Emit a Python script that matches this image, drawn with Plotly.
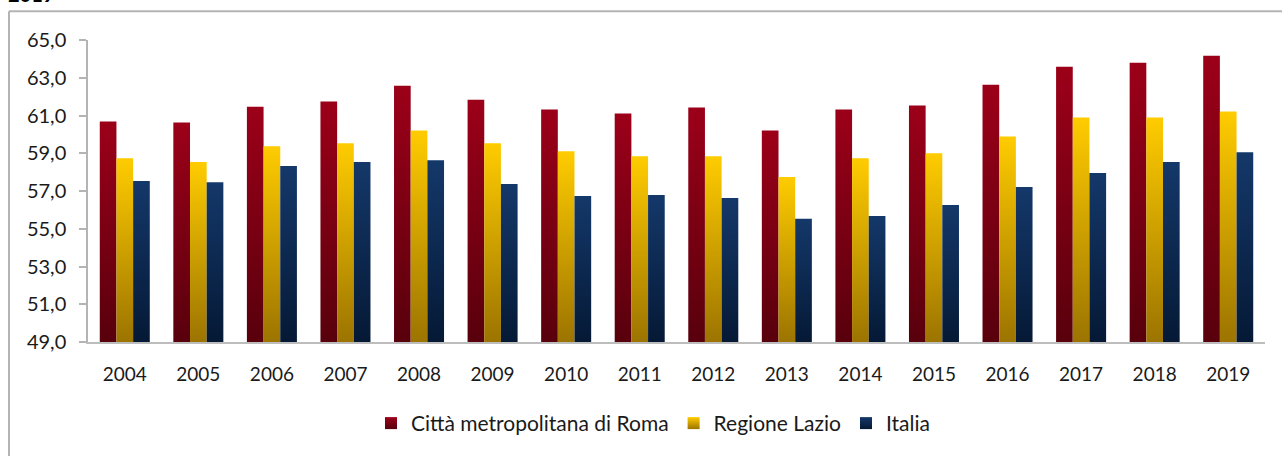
import json
import plotly.graph_objects as go

years = [str(y) for y in range(2004, 2020)]
roma = [60.68, 60.63, 61.47, 61.74, 62.58, 61.84, 61.32, 61.10, 61.42, 60.21,
        61.32, 61.53, 62.63, 63.58, 63.79, 64.16]
lazio = [58.74, 58.53, 59.37, 59.53, 60.21, 59.53, 59.10, 58.84, 58.84, 57.74,
         58.74, 59.00, 59.89, 60.89, 60.89, 61.21]
italia = [57.53, 57.47, 58.32, 58.53, 58.63, 57.37, 56.74, 56.79, 56.63, 55.53,
          55.68, 56.26, 57.21, 57.95, 58.53, 59.05]
series_names = ["Città metropolitana di Roma", "Regione Lazio", "Italia"]
series_values = [roma, lazio, italia]
mid_colors = ["#7d0014", "#d9a600", "#0f2a52"]
grad_top = ["#9c0019", "#ffcc00", "#14386a"]
grad_bottom = ["#58000c", "#9c7400", "#051935"]
y_ticks = [49, 51, 53, 55, 57, 59, 61, 63, 65]

FONT = "Lato, 'Open Sans', sans-serif"

fig = go.Figure()
for name, vals, col in zip(series_names, series_values, mid_colors):
    fig.add_trace(go.Bar(
        x=years, y=vals, name=name,
        marker=dict(color=col, line=dict(width=0)),
        hoverinfo="x+y+name",
    ))

W, H = 1282, 456
L, R, T, B = 88, 1265, 40, 344
pw, ph = R - L, B - T

def px_x(px):
    return (px - L) / pw

def px_y(py):
    return (B - py) / ph

border = "#b4b4b4"
fig.update_layout(
    width=W, height=H,
    margin=dict(l=L, r=W - R, t=T, b=H - B, pad=0),
    paper_bgcolor="white", plot_bgcolor="white",
    separators=",.",
    barmode="group", bargap=0.32, bargroupgap=0,
    font=dict(family=FONT, size=19, color="#1a1a1a"),
    showlegend=True,
    legend=dict(orientation="h", x=px_x(653), xanchor="center",
                y=px_y(426), yanchor="middle",
                font=dict(family=FONT, size=21, color="#1a1a1a"),
                traceorder="normal", itemwidth=30),
    xaxis=dict(showgrid=False, showline=True, linecolor="#bdbdbd", linewidth=2,
               ticks="", ticklabelstandoff=14, zeroline=False,
               tickfont=dict(family=FONT, size=19, color="#1a1a1a")),
    yaxis=dict(range=[49, 65], tickvals=y_ticks, tickformat=".1f",
               showgrid=False, showline=True, linecolor="#b4b4b4", linewidth=1.5,
               ticks="outside", ticklen=7, tickcolor="#b4b4b4", tickwidth=1.5,
               ticklabelstandoff=9, zeroline=False,
               tickfont=dict(family=FONT, size=20, color="#1a1a1a")),
    shapes=[
        dict(type="line", xref="paper", yref="paper",
             x0=px_x(9), x1=px_x(1300), y0=px_y(11), y1=px_y(11),
             line=dict(color=border, width=2)),
        dict(type="line", xref="paper", yref="paper",
             x0=px_x(9), x1=px_x(9), y0=px_y(11), y1=px_y(480),
             line=dict(color=border, width=2)),
    ],
    annotations=[
        dict(text="<b>2019</b>", xref="paper", yref="paper",
             x=px_x(6), xanchor="left", y=px_y(8), yanchor="bottom",
             showarrow=False, font=dict(family=FONT, size=20, color="#000000")),
    ],
)

post = """
document.body.style.margin = '0';
document.body.style.padding = '0';
var gd = document.getElementById('{plot_id}');
var TOPS = %s, BOTS = %s;
var NS = 'http://www.w3.org/2000/svg';
function makeGrad(defs, id, i, user, y1, y2){
  var g = document.getElementById(id);
  if(!g){ g = document.createElementNS(NS,'linearGradient'); g.setAttribute('id', id); defs.appendChild(g);
    var s1 = document.createElementNS(NS,'stop'); s1.setAttribute('offset','0'); s1.setAttribute('stop-color',TOPS[i]);
    var s2 = document.createElementNS(NS,'stop'); s2.setAttribute('offset','1'); s2.setAttribute('stop-color',BOTS[i]);
    g.appendChild(s1); g.appendChild(s2); }
  if(user){ g.setAttribute('gradientUnits','userSpaceOnUse'); g.setAttribute('x1','0'); g.setAttribute('x2','0');
    g.setAttribute('y1', y1); g.setAttribute('y2', y2); }
  else { g.setAttribute('x1','0'); g.setAttribute('y1','0'); g.setAttribute('x2','0'); g.setAttribute('y2','1'); }
  return id;
}
function applyGrad(){
  var svg = gd.querySelector('svg.main-svg');
  if(!svg) return;
  var defs = svg.querySelector('defs');
  if(!defs){ defs = document.createElementNS(NS,'defs'); svg.insertBefore(defs, svg.firstChild); }
  var bottom = gd._fullLayout.yaxis._length;
  var traces = gd.querySelectorAll('.barlayer g.trace');
  traces.forEach(function(t,i){
    t.querySelectorAll('path').forEach(function(p,j){
      var bb = p.getBBox();
      var id = makeGrad(defs, 'bg_'+i+'_'+j, i, true, bb.y, bottom);
      p.style.setProperty('fill', 'url(#'+id+')', 'important');
    });
  });
  var legs = gd.querySelectorAll('g.legend g.traces');
  legs.forEach(function(t,i){
    var id = makeGrad(defs, 'lg_'+i, i, false);
    t.querySelectorAll('g.legendpoints path').forEach(function(p){
      p.style.setProperty('fill', 'url(#'+id+')', 'important');
    });
  });
}
applyGrad();
gd.on('plotly_afterplot', applyGrad);
""" % (json.dumps(grad_top), json.dumps(grad_bottom))

fig.write_html("out.html", post_script=post, config={"displayModeBar": False})
